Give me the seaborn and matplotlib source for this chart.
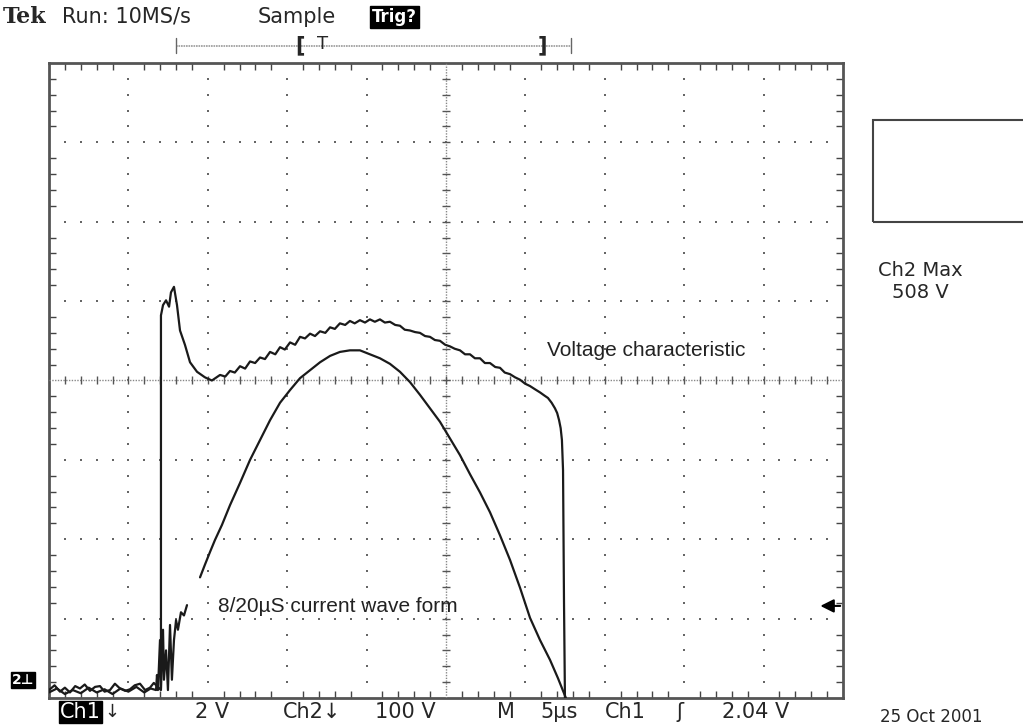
import numpy as np
import pandas as pd
import matplotlib
matplotlib.use('Agg')
import matplotlib.pyplot as plt
import seaborn as sns

# Ch2 trace (voltage), time in us, level in divisions from the bottom
volt_t = [0.00, 0.35, 0.69, 1.00, 1.32, 1.65, 1.95, 2.25, 2.58, 2.90, 3.21, 3.50,
          3.84, 4.15, 4.47, 4.80, 5.10, 5.40, 5.73, 6.05, 6.36, 6.60, 6.80,
          7.05, 7.05, 7.18, 7.37, 7.56, 7.68, 7.87, 8.06, 8.25, 8.56, 8.88, 9.32,
          9.82, 10.26, 10.77, 11.10, 11.40, 11.70, 12.03, 12.35, 12.66, 12.98,
          13.29, 13.60, 13.92, 14.25, 14.55, 14.85, 15.18, 15.50, 15.81, 16.12,
          16.44, 16.75, 17.07, 17.40, 17.70, 18.00, 18.32, 18.65, 18.95, 19.25,
          19.58, 19.90, 20.21, 20.52, 20.84, 21.15, 21.47, 21.80, 22.10, 22.40,
          22.73, 23.05, 23.36, 23.68, 23.99, 24.30, 24.62, 24.95, 25.25, 25.55,
          25.88, 26.20, 26.51, 26.82, 27.14, 27.45, 27.77, 28.10, 28.40, 28.70,
          29.03, 29.35, 29.66, 29.98, 30.29, 30.60, 30.92, 31.20, 31.42, 31.65,
          31.86, 32.00, 32.12, 32.22, 32.30, 32.37, 32.43, 32.49]
volt_div = [0.10, 0.16, 0.08, 0.13, 0.07, 0.15, 0.12, 0.17, 0.09, 0.14, 0.15, 0.08,
            0.10, 0.18, 0.12, 0.09, 0.11, 0.16, 0.18, 0.10, 0.13, 0.19, 0.15,
            0.10, 4.82, 4.95, 5.01, 4.93, 5.11, 5.18, 4.95, 4.63, 4.45, 4.23, 4.11,
            4.04, 4.00, 4.07, 4.05, 4.12, 4.10, 4.18, 4.15, 4.24, 4.22,
            4.29, 4.27, 4.36, 4.33, 4.42, 4.39, 4.48, 4.45, 4.55, 4.53,
            4.59, 4.56, 4.62, 4.60, 4.67, 4.65, 4.72, 4.70, 4.75, 4.72,
            4.76, 4.73, 4.77, 4.74, 4.77, 4.73, 4.74, 4.70, 4.69, 4.64,
            4.63, 4.61, 4.60, 4.56, 4.55, 4.51, 4.50, 4.45, 4.43, 4.40,
            4.38, 4.33, 4.33, 4.28, 4.28, 4.22, 4.22, 4.17, 4.16, 4.10,
            4.08, 4.04, 4.01, 3.96, 3.93, 3.89, 3.85, 3.81, 3.78, 3.72,
            3.65, 3.59, 3.50, 3.40, 3.25, 2.87, 1.23, 0.00]

# Ch1 trace (current), two pieces with a gap
curr1_t = [0.00, 0.50, 1.00, 1.50, 2.00, 2.50, 3.00, 3.50, 4.00, 4.50, 5.00, 5.50,
           6.00, 6.40, 6.74, 6.80, 6.86, 6.99, 7.05, 7.18, 7.24, 7.37, 7.49, 7.62,
           7.74, 7.87, 8.00, 8.12, 8.31, 8.50, 8.69]
curr1_div = [0.07, 0.12, 0.05, 0.10, 0.06, 0.13, 0.07, 0.11, 0.05, 0.12, 0.08, 0.14,
             0.07, 0.12, 0.10, 0.29, 0.10, 0.73, 0.12, 0.86, 0.23, 0.60, 0.10, 0.92,
             0.23, 0.73, 0.98, 0.86, 1.08, 1.04, 1.17]
curr2_t = [9.51, 9.82, 10.14, 10.45, 10.89, 11.40, 12.03, 12.66, 13.29, 13.92, 14.55,
           15.18, 15.81, 16.44, 17.07, 17.70, 18.32, 18.95, 19.58, 20.21, 20.84,
           21.47, 22.10, 22.73, 23.36, 23.99, 24.62, 25.25, 25.88, 26.51, 27.14,
           27.77, 28.40, 29.03, 29.66, 30.29, 30.92, 31.55, 32.05, 32.55]
curr2_div = [1.52, 1.68, 1.84, 1.99, 2.18, 2.43, 2.71, 3.00, 3.25, 3.50, 3.72,
             3.88, 4.03, 4.13, 4.23, 4.31, 4.36, 4.38, 4.38, 4.33, 4.28,
             4.21, 4.11, 3.98, 3.82, 3.65, 3.48, 3.27, 3.06, 2.82, 2.59,
             2.34, 2.05, 1.74, 1.39, 1.01, 0.73, 0.48, 0.25, 0.00]

bottom_labels = ['2 V', 'Ch2\u2193', '100 V', 'M', '5\u00b5s', 'Ch1', '\u0283', '2.04 V']

W, H = 1023, 727


def fx(px):
    return px / W


def fy(py):
    return 1 - py / H


sns.set_style('white')
plt.rcParams['font.family'] = ['DejaVu Sans']

fig = plt.figure(figsize=(W / 100, H / 100), dpi=100)
ax = fig.add_axes([fx(49), fy(698), (843 - 49) / W, (698 - 63) / H])

df = pd.concat([
    pd.DataFrame({'t': volt_t, 'div': volt_div, 'trace': 'ch2'}),
    pd.DataFrame({'t': curr1_t, 'div': curr1_div, 'trace': 'ch1a'}),
    pd.DataFrame({'t': curr2_t, 'div': curr2_div, 'trace': 'ch1b'}),
])
sns.lineplot(data=df, x='t', y='div', units='trace', estimator=None, sort=False,
             color='#1a1a1a', linewidth=1.6, ax=ax, zorder=5)

ax.set_xlim(0, 50)
ax.set_ylim(0, 8)
ax.set_xlabel('')
ax.set_ylabel('')

# graticule dots
gx, gy = [], []
for xv in range(5, 50, 5):
    if xv == 25:
        continue
    for yv in np.arange(0.2, 8.0, 0.2):
        gx.append(xv)
        gy.append(yv)
for yv in range(1, 8):
    if yv == 4:
        continue
    for xv in range(1, 50):
        gx.append(xv)
        gy.append(yv)
ax.scatter(gx, gy, s=2.5, marker='s', color='#666666', linewidths=0, zorder=2)

# centre cross with ticks
ax.axhline(4, color='#888888', lw=1.0, ls=(0, (1, 1)), zorder=3)
ax.axvline(25, color='#888888', lw=1.0, ls=(0, (1, 1)), zorder=3)
ax.scatter(range(1, 50), [4] * 49, marker='|', s=40, color='#555555', linewidths=1, zorder=3)
ax.scatter([25] * 39, np.arange(0.2, 8.0, 0.2), marker='_', s=40, color='#555555', linewidths=1, zorder=3)

ax.set_xticks(range(0, 51, 5))
ax.set_yticks(range(0, 9))
ax.set_xticks(range(0, 51), minor=True)
ax.set_yticks(np.arange(0, 8.01, 0.2), minor=True)
ax.tick_params(which='both', direction='in', top=True, right=True, bottom=True, left=True,
               labelbottom=False, labelleft=False, color='#444444')
ax.tick_params(which='major', length=0)
ax.tick_params(which='minor', length=5, width=1)
for s in ax.spines.values():
    s.set_color('#555555')
    s.set_linewidth(2)

# trace labels
ax.text(31.36, 4.38, 'Voltage characteristic', fontsize=15, family='Liberation Sans',
        va='center', ha='left', color='#222222')
ax.text(10.64, 1.15, '8/20\u00b5S current wave form', fontsize=15, family='Liberation Sans',
        va='center', ha='left', color='#222222')

# trigger level arrow
ax.annotate('', xy=(48.4, 1.16), xytext=(50.0, 1.16),
            arrowprops=dict(arrowstyle='-|>', color='black', lw=1.5, mutation_scale=20),
            annotation_clip=False)

# trigger position bracket above the graticule
ax.plot([8.0, 32.9], [8.22, 8.22], color='#999999', lw=1.2, ls=(0, (1, 0.5)), clip_on=False)
ax.plot([8.0, 8.0], [8.12, 8.32], color='#666666', lw=1, clip_on=False)
ax.plot([32.9, 32.9], [8.12, 8.32], color='#666666', lw=1, clip_on=False)
ax.text(15.8, 8.22, '[', fontsize=15, fontweight='bold', va='center', ha='center', clip_on=False)
ax.text(17.2, 8.24, 'T', fontsize=13, va='center', ha='center', clip_on=False)
ax.text(31.1, 8.22, ']', fontsize=15, fontweight='bold', va='center', ha='center', clip_on=False)

# header
fig.text(fx(3), fy(17), 'Tek', fontsize=16, fontweight='bold', family='DejaVu Serif', va='center')
fig.text(fx(62), fy(17), 'Run: 10MS/s', fontsize=15, va='center')
fig.text(fx(258), fy(17), 'Sample', fontsize=15, va='center')
fig.text(fx(372), fy(17), 'Trig?', fontsize=12, fontweight='bold', va='center', color='white',
         bbox=dict(facecolor='black', edgecolor='black', pad=1.5))

# footer
fig.text(fx(60), fy(712), 'Ch1', fontsize=15, va='center', color='white',
         bbox=dict(facecolor='black', edgecolor='black', pad=1.0))
fig.text(fx(104), fy(712), '\u2193', fontsize=13, va='center')
bottom_x = [195, 283, 375, 497, 540, 605, 676, 722]
for xp, lab in zip(bottom_x, bottom_labels):
    fig.text(fx(xp), fy(712), lab, fontsize=15, va='center')
fig.text(fx(880), fy(726), '25 Oct 2001', fontsize=12, va='bottom')

# ground marker for Ch2
fig.text(fx(12), fy(680), '2\u22a5', fontsize=10, fontweight='bold', va='center', color='white',
         bbox=dict(facecolor='black', edgecolor='black', pad=0.8))

# right side readout
box = plt.Rectangle((fx(873), fy(222)), fx(1030) - fx(873), fy(120) - fy(222),
                    transform=fig.transFigure, fill=False, edgecolor='#444444', lw=1.5)
fig.patches.append(box)
fig.text(fx(920), fy(270), 'Ch2 Max', fontsize=14, ha='center', va='center')
fig.text(fx(920), fy(292), '508 V', fontsize=14, ha='center', va='center')

fig.savefig('out.png', dpi=100, facecolor='white')
